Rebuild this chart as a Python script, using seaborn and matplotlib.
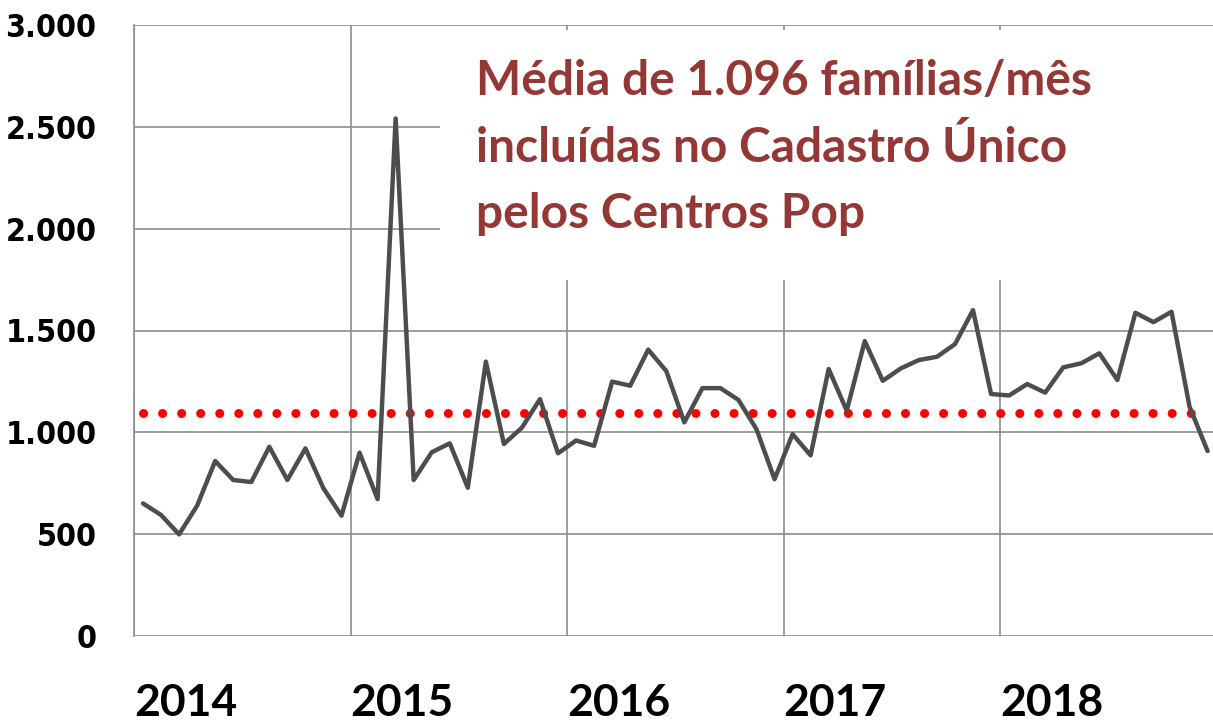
import numpy as np
import pandas as pd
import matplotlib
matplotlib.use("Agg")
import matplotlib.pyplot as plt
import seaborn as sns
from matplotlib.patches import Rectangle
from matplotlib.ticker import FuncFormatter

# famílias incluídas no Cadastro Único pelos Centros Pop, jan/2014 a dez/2018
anos = ["2014", "2015", "2016", "2017", "2018"]
v2014 = [651, 594, 499, 640, 859, 766, 756, 929, 766, 921, 725, 591]
v2015 = [900, 672, 2541, 766, 902, 946, 728, 1347, 943, 1023, 1163, 897]
v2016 = [960, 934, 1249, 1229, 1406, 1301, 1049, 1217, 1217, 1159, 1015, 770]
v2017 = [991, 887, 1311, 1106, 1448, 1253, 1314, 1355, 1371, 1433, 1600, 1188]
v2018 = [1181, 1237, 1195, 1319, 1339, 1388, 1257, 1587, 1541, 1592, 1126, 908]
media = 1096
y_ticks = [0, 500, 1000, 1500, 2000, 2500, 3000]
texto = ["Média de 1.096 famílias/mês",
         "incluídas no Cadastro Único",
         "pelos Centros Pop"]

valores = v2014 + v2015 + v2016 + v2017 + v2018
df = pd.DataFrame({"mes": np.arange(len(valores)) + 0.5, "familias": valores})
df["media"] = media

sns.set_theme(style="white")
plt.rcParams["font.family"] = ["DejaVu Sans"]

fig = plt.figure(figsize=(12.13, 7.24), dpi=100)
ax = fig.add_axes([134 / 1213, 88 / 724, 1079 / 1213, 611 / 724])

grid_c = "#8c8c8c"
ax.set_axisbelow(True)
ax.grid(True, color=grid_c, linewidth=1.2)

# caixa branca atrás do texto (cobre a grade)
ax.add_patch(Rectangle((0.2836, 0.5827), 0.72, 0.409, transform=ax.transAxes,
                       facecolor="white", edgecolor="none", zorder=1))

sns.lineplot(data=df, x="mes", y="media", ax=ax, color="#ff0000",
             linewidth=6.5, linestyle=(0, (0.01, 2.1)),
             dash_capstyle="round", zorder=3)
sns.lineplot(data=df, x="mes", y="familias", ax=ax, color="#4d4d4d",
             linewidth=3.2, zorder=4)

ax.set_xlim(0, 59.8)
ax.set_ylim(0, 3000)
ax.set_yticks(y_ticks)
ax.yaxis.set_major_formatter(FuncFormatter(lambda v, p: f"{int(v):,}".replace(",", ".")))
ax.set_xticks(np.arange(len(anos)) * 12, labels=anos)
for lab in ax.get_xticklabels():
    lab.set_horizontalalignment("left")
    lab.set_fontfamily("Lato")
    lab.set_fontweight("bold")
    lab.set_fontsize(32)
for lab in ax.get_yticklabels():
    lab.set_fontweight("bold")
    lab.set_fontstretch("condensed")
    lab.set_fontsize(23)

ax.tick_params(axis="y", direction="out", length=9, width=1.2, color=grid_c,
               pad=18, labelcolor="black")
ax.tick_params(axis="x", direction="out", length=12, width=1.2, color=grid_c,
               pad=22, labelcolor="black")
ax.set_xlabel("")
ax.set_ylabel("")
for s in ["top", "right", "bottom"]:
    ax.spines[s].set_visible(False)
ax.spines["left"].set_color(grid_c)
ax.spines["left"].set_linewidth(1.2)

for i, linha in enumerate(texto):
    fig.text(476 / 1213, 1 - (95 + 66.5 * i) / 724, linha, ha="left", va="baseline",
             color="#953735", fontsize=34.5, fontweight="bold", family="Lato")

fig.savefig("out.png", dpi=100)
